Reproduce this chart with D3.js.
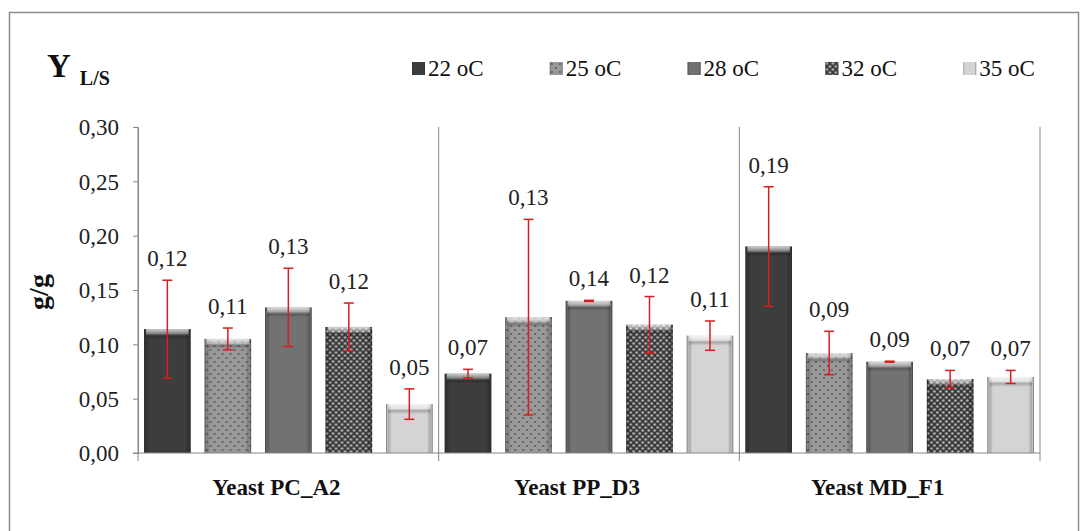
<!DOCTYPE html>
<meta charset="utf-8">
<script src="https://d3js.org/d3.v7.min.js"></script>
<style>
  body { margin: 0; background: #fff; }
  text { font-family: "Liberation Serif", "Times New Roman", serif; }
</style>
<body>
<div id="canvas"></div>
<script>

	// dados
	var groups = ["Yeast PC_A2", "Yeast PP_D3", "Yeast MD_F1"];
	var temps = ["22 oC", "25 oC", "28 oC", "32 oC", "35 oC"];
	var values = [
		[0.114, 0.105, 0.134, 0.116, 0.045],
		[0.073, 0.125, 0.140, 0.118, 0.108],
		[0.190, 0.092, 0.084, 0.068, 0.070]
	];
	var errors = [
		[0.045, 0.010, 0.036, 0.022, 0.014],
		[0.004, 0.090, 0.0005, 0.026, 0.0135],
		[0.055, 0.020, 0.0005, 0.008, 0.006]
	];
	var labels = [
		["0,12", "0,11", "0,13", "0,12", "0,05"],
		["0,07", "0,13", "0,14", "0,12", "0,11"],
		["0,19", "0,09", "0,09", "0,07", "0,07"]
	];
	var yTicks = [0, 0.05, 0.10, 0.15, 0.20, 0.25, 0.30];

	var width = 1089;
	var height = 531;

	var svg = d3.select('#canvas')
		.append("svg")
		.attr("width", width)
		.attr("height", height);

	var defs = svg.append("defs");

	// padroes das barras
	var p25 = defs.append("pattern").attr("id", "p25")
		.attr("patternUnits", "userSpaceOnUse").attr("width", 8).attr("height", 8);
	p25.append("rect").attr("width", 8).attr("height", 8).attr("fill", "#999");
	p25.append("circle").attr("cx", 2).attr("cy", 2).attr("r", 1).attr("fill", "#555");
	p25.append("circle").attr("cx", 6).attr("cy", 6).attr("r", 1).attr("fill", "#555");

	var p32 = defs.append("pattern").attr("id", "p32")
		.attr("patternUnits", "userSpaceOnUse").attr("width", 6).attr("height", 6);
	p32.append("rect").attr("width", 6).attr("height", 6).attr("fill", "#3a3a3a");
	p32.append("circle").attr("cx", 1.5).attr("cy", 1.5).attr("r", 1.3).attr("fill", "#b8b8b8");
	p32.append("circle").attr("cx", 4.5).attr("cy", 4.5).attr("r", 1.3).attr("fill", "#b8b8b8");

	var fills = ["#3d3d3d", "url(#p25)", "#727272", "url(#p32)", "#d4d4d4"];

	// bisel: laterais escuras e topo claro
	var sideGrad = defs.append("linearGradient").attr("id", "side")
		.attr("x1", 0).attr("x2", 1).attr("y1", 0).attr("y2", 0);
	[[0, 0.5], [0.03, 0.1], [0.06, 0.2], [0.12, 0], [0.88, 0], [0.94, 0.2], [0.97, 0.1], [1, 0.5]].forEach(function(s) {
		sideGrad.append("stop").attr("offset", s[0]).attr("stop-color", "#000").attr("stop-opacity", s[1]);
	});
	var topGrad = defs.append("linearGradient").attr("id", "topbevel")
		.attr("x1", 0).attr("x2", 0).attr("y1", 0).attr("y2", 1);
	[[0, "#fff", 0.75], [0.45, "#fff", 0.35], [0.7, "#000", 0.2], [1, "#000", 0]].forEach(function(s) {
		topGrad.append("stop").attr("offset", s[0]).attr("stop-color", s[1]).attr("stop-opacity", s[2]);
	});

	// moldura
	svg.append("rect")
		.attr("x", 9.5).attr("y", 12.5)
		.attr("width", 1069).attr("height", 540)
		.attr("fill", "none")
		.attr("stroke", "#8c8c8c")
		.attr("stroke-width", 1.5);

	var margin = {top: 127, right: 49, bottom: 78, left: 138};
	var plotW = width - margin.left - margin.right;

	var x0 = d3.scaleBand().domain(groups).range([margin.left, margin.left + plotW]);
	var x1 = d3.scaleBand().domain(temps).range([0, x0.bandwidth()])
		.paddingInner(0.23).paddingOuter(0.1);
	var y = d3.scaleLinear().domain([0, 0.30]).range([453, 127]);

	// eixo Y
	var yAxis = d3.axisLeft(y)
		.tickValues(yTicks)
		.tickSize(5)
		.tickFormat(function(d) { return d3.format(".2f")(d).replace(".", ","); });
	var gy = svg.append("g")
		.attr("transform", "translate(" + margin.left + ",0)")
		.call(yAxis);
	gy.select(".domain").attr("stroke", "#868686");
	gy.selectAll(".tick line").attr("stroke", "#868686");
	gy.selectAll(".tick text")
		.attr("x", -19)
		.attr("dy", "0.34em")
		.style("font-size", "23px")
		.style("font-family", "Liberation Serif")
		.attr("fill", "#222");

	// separadores das categorias
	var seps = groups.map(function(g) { return x0(g); }).concat([margin.left + plotW]);
	svg.selectAll("line.sep")
		.data(seps)
		.enter()
		.append("line")
		.attr("class", "sep")
		.attr("x1", function(d) { return d; })
		.attr("x2", function(d) { return d; })
		.attr("y1", y(0.30))
		.attr("y2", y(0) + 8)
		.attr("stroke", "#868686");

	var cells = [];
	groups.forEach(function(g, i) {
		temps.forEach(function(t, j) {
			cells.push({g: g, t: t, j: j, v: values[i][j], e: errors[i][j], l: labels[i][j]});
		});
	});

	var bars = svg.selectAll("g.bar")
		.data(cells)
		.enter()
		.append("g")
		.attr("class", "bar")
		.attr("transform", function(d) { return "translate(" + (x0(d.g) + x1(d.t)) + ",0)"; });

	bars.append("rect")
		.attr("y", function(d) { return y(d.v); })
		.attr("width", x1.bandwidth())
		.attr("height", function(d) { return y(0) - y(d.v); })
		.attr("fill", function(d) { return fills[d.j]; });
	bars.append("rect")
		.attr("y", function(d) { return y(d.v); })
		.attr("width", x1.bandwidth())
		.attr("height", function(d) { return y(0) - y(d.v); })
		.attr("fill", "url(#side)");
	bars.append("rect")
		.attr("x", 2)
		.attr("y", function(d) { return y(d.v); })
		.attr("width", x1.bandwidth() - 4)
		.attr("height", 10)
		.attr("fill", "url(#topbevel)");

	// linha do eixo X
	svg.append("line")
		.attr("x1", margin.left - 5)
		.attr("x2", margin.left + plotW)
		.attr("y1", y(0))
		.attr("y2", y(0))
		.attr("stroke", "#868686");

	// barras de erro
	var cx = x1.bandwidth() / 2;
	var errColor = "#d81e1e";
	bars.append("line")
		.attr("x1", cx).attr("x2", cx)
		.attr("y1", function(d) { return y(d.v + d.e); })
		.attr("y2", function(d) { return y(d.v - d.e); })
		.attr("stroke", errColor).attr("stroke-width", 1.5);
	bars.selectAll("line.cap")
		.data(function(d) { return [d.v + d.e, d.v - d.e]; })
		.enter()
		.append("line")
		.attr("class", "cap")
		.attr("x1", cx - 5).attr("x2", cx + 5)
		.attr("y1", function(d) { return y(d); })
		.attr("y2", function(d) { return y(d); })
		.attr("stroke", errColor).attr("stroke-width", 1.5);

	// rotulos
	bars.append("text")
		.attr("x", cx)
		.attr("y", function(d) { return y(d.v + d.e) - 14; })
		.attr("text-anchor", "middle")
		.style("font-size", "23px")
		.attr("fill", "#222")
		.text(function(d) { return d.l; });

	// nomes das categorias
	svg.selectAll("text.cat")
		.data(groups)
		.enter()
		.append("text")
		.attr("class", "cat")
		.attr("x", function(d) { return x0(d) + x0.bandwidth() / 2 - 12; })
		.attr("y", 495)
		.attr("text-anchor", "middle")
		.style("font-size", "23px")
		.style("font-weight", "bold")
		.attr("fill", "#111")
		.text(function(d) { return d; });

	// titulo do eixo
	svg.append("text")
		.attr("transform", "translate(48,292) rotate(-90)")
		.attr("text-anchor", "middle")
		.style("font-size", "28px")
		.style("font-weight", "bold")
		.attr("fill", "#111")
		.text("g/g");

	var title = svg.append("text")
		.attr("x", 47)
		.attr("y", 77)
		.style("font-weight", "bold")
		.attr("fill", "#111");
	title.append("tspan").style("font-size", "33px").text("Y");
	title.append("tspan").attr("dx", 9).attr("dy", 8).style("font-size", "20px").text("L/S");

	// legenda
	var leg = svg.selectAll("g.leg")
		.data(temps)
		.enter()
		.append("g")
		.attr("class", "leg")
		.attr("transform", function(d, i) { return "translate(" + (412 + i * 137.8) + ",62)"; });
	leg.append("rect").attr("width", 13).attr("height", 13)
		.attr("fill", function(d, i) { return fills[i]; });
	leg.append("rect").attr("width", 13).attr("height", 13).attr("fill", "url(#side)");
	leg.append("text")
		.attr("x", 16)
		.attr("y", 14)
		.style("font-size", "23px")
		.attr("fill", "#111")
		.text(function(d) { return d; });

</script>
</body>
